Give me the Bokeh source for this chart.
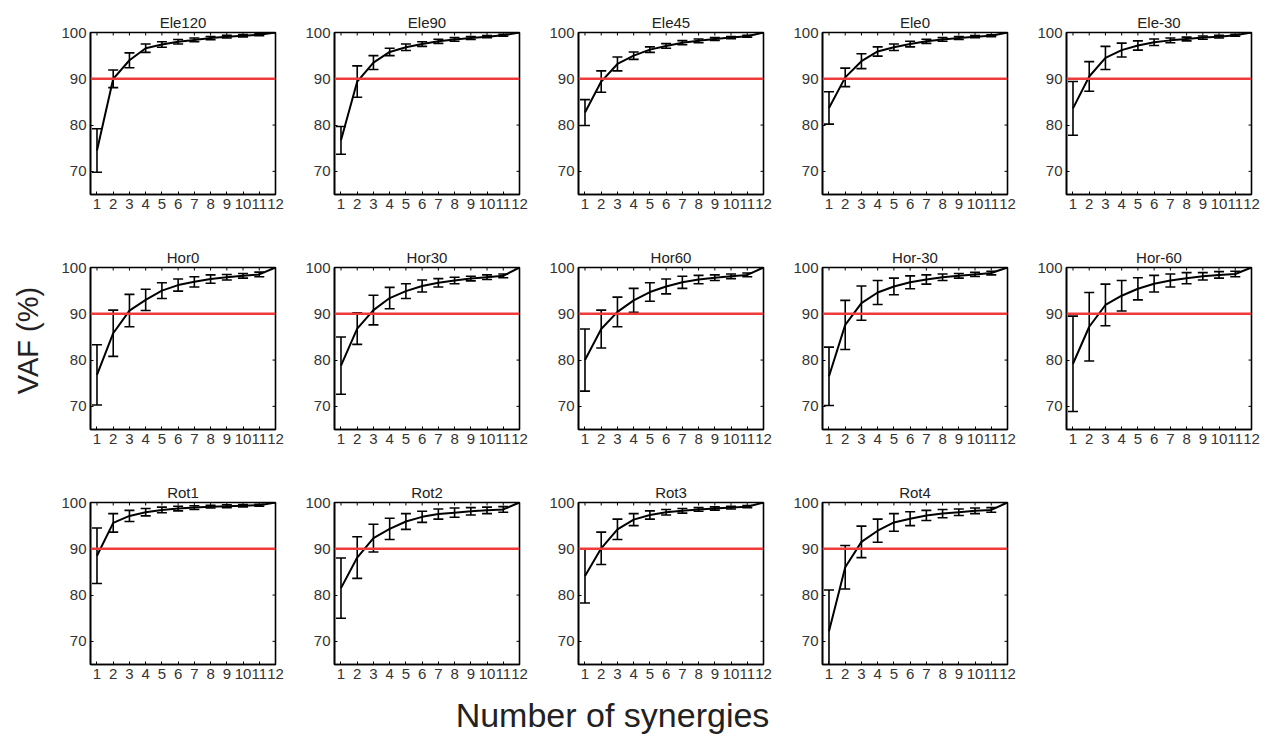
import math
from bokeh.plotting import figure
from bokeh.models import Range1d, FixedTicker, Span, ColumnDataSource, Spacer
from bokeh.core.properties import value
from bokeh.layouts import column, row
from bokeh.embed import file_html
from bokeh.resources import INLINE

synergies = [1, 2, 3, 4, 5, 6, 7, 8, 9, 10, 11, 12]
panel_names = ["Ele120", "Ele90", "Ele45", "Ele0", "Ele-30",
               "Hor0", "Hor30", "Hor60", "Hor-30", "Hor-60",
               "Rot1", "Rot2", "Rot3", "Rot4"]

ele120_mean = [74.5, 90.0, 94.0, 96.6, 97.4, 98.0, 98.4, 98.8, 99.1, 99.3, 99.5, 100]
ele120_sd = [4.7, 1.9, 1.6, 0.9, 0.6, 0.5, 0.4, 0.35, 0.3, 0.25, 0.2, 0]
ele90_mean = [76.7, 89.4, 93.5, 95.8, 96.8, 97.5, 98.1, 98.5, 98.8, 99.1, 99.4, 100]
ele90_sd = [3.0, 3.4, 1.5, 0.8, 0.7, 0.5, 0.45, 0.4, 0.3, 0.25, 0.2, 0]
ele45_mean = [82.7, 89.4, 93.2, 95.0, 96.3, 97.1, 97.8, 98.2, 98.6, 98.9, 99.2, 100]
ele45_sd = [2.8, 2.3, 1.5, 0.8, 0.6, 0.5, 0.45, 0.4, 0.3, 0.25, 0.2, 0]
ele0_mean = [83.7, 90.3, 93.8, 95.9, 96.8, 97.5, 98.1, 98.5, 98.8, 99.1, 99.3, 100]
ele0_sd = [3.5, 2.0, 1.6, 1.0, 0.7, 0.6, 0.45, 0.4, 0.3, 0.25, 0.2, 0]
ele_m30_mean = [83.6, 90.5, 94.5, 96.2, 97.2, 97.9, 98.3, 98.6, 98.9, 99.1, 99.4, 100]
ele_m30_sd = [5.8, 3.2, 2.5, 1.5, 1.0, 0.7, 0.5, 0.4, 0.35, 0.3, 0.2, 0]
hor0_mean = [76.8, 85.8, 90.7, 93.0, 95.0, 96.2, 96.9, 97.5, 97.9, 98.2, 98.5, 100]
hor0_sd = [6.5, 5.0, 3.5, 2.3, 1.7, 1.3, 1.1, 0.9, 0.6, 0.5, 0.5, 0]
hor30_mean = [78.8, 86.8, 90.8, 93.4, 94.9, 96.0, 96.7, 97.2, 97.6, 97.9, 98.2, 100]
hor30_sd = [6.2, 3.4, 3.2, 2.3, 1.6, 1.3, 0.9, 0.7, 0.5, 0.5, 0.4, 0]
hor60_mean = [80.0, 86.7, 90.4, 92.9, 94.7, 95.9, 96.8, 97.4, 97.8, 98.1, 98.4, 100]
hor60_sd = [6.7, 4.1, 3.2, 2.6, 2.0, 1.6, 1.3, 0.9, 0.6, 0.5, 0.4, 0]
hor_m30_mean = [76.5, 87.6, 92.3, 94.6, 95.9, 96.8, 97.4, 97.9, 98.2, 98.5, 98.8, 100]
hor_m30_sd = [6.3, 5.3, 3.7, 2.6, 1.8, 1.4, 1.0, 0.7, 0.5, 0.45, 0.4, 0]
hor_m60_mean = [79.2, 87.2, 91.9, 93.9, 95.4, 96.5, 97.2, 97.7, 98.1, 98.4, 98.6, 100]
hor_m60_sd = [10.3, 7.4, 4.5, 3.3, 2.4, 1.8, 1.4, 1.2, 0.8, 0.7, 0.6, 0]
rot1_mean = [88.5, 95.6, 97.1, 97.9, 98.4, 98.7, 98.9, 99.1, 99.2, 99.3, 99.4, 100]
rot1_sd = [6.0, 2.0, 1.2, 0.8, 0.6, 0.5, 0.4, 0.3, 0.3, 0.25, 0.2, 0]
rot2_mean = [81.5, 88.1, 92.3, 94.3, 95.9, 96.9, 97.5, 97.8, 98.1, 98.3, 98.5, 100]
rot2_sd = [6.5, 4.5, 3.0, 2.3, 1.7, 1.2, 1.1, 1.0, 0.8, 0.7, 0.6, 0]
rot3_mean = [84.1, 90.1, 94.2, 96.3, 97.3, 97.9, 98.2, 98.5, 98.7, 98.9, 99.1, 100]
rot3_sd = [5.8, 3.5, 2.2, 1.3, 0.9, 0.6, 0.5, 0.4, 0.35, 0.3, 0.25, 0]
rot4_mean = [72.2, 86.0, 91.5, 93.9, 95.7, 96.5, 97.2, 97.6, 97.9, 98.2, 98.4, 100]
rot4_sd = [8.9, 4.7, 3.4, 2.5, 1.9, 1.5, 1.1, 0.9, 0.7, 0.6, 0.5, 0]

threshold = 90
y_ticks = [70, 80, 90, 100]
x_lim = (0.6, 12)
y_lim = (65, 100)

panel_means = [ele120_mean, ele90_mean, ele45_mean, ele0_mean, ele_m30_mean,
               hor0_mean, hor30_mean, hor60_mean, hor_m30_mean, hor_m60_mean,
               rot1_mean, rot2_mean, rot3_mean, rot4_mean]
panel_sds = [ele120_sd, ele90_sd, ele45_sd, ele0_sd, ele_m30_sd,
             hor0_sd, hor30_sd, hor60_sd, hor_m30_sd, hor_m60_sd,
             rot1_sd, rot2_sd, rot3_sd, rot4_sd]

FONT = "Liberation Sans"
PW, PH = 244, 235
PH_LAST = 225


def make_panel(name, mean, sd, height=PH):
    p = figure(width=PW, height=height, toolbar_location=None, output_backend="svg",
               x_range=Range1d(*x_lim), y_range=Range1d(*y_lim),
               min_border_left=45, min_border_right=14, min_border_top=32,
               min_border_bottom=height - 32 - 162)
    upper = [m + s for m, s in zip(mean, sd)]
    lower = [m - s for m, s in zip(mean, sd)]
    src = ColumnDataSource(dict(x=synergies, m=mean, up=upper, lo=lower))
    p.add_layout(Span(location=threshold, dimension="width", line_color="#ef3b3b", line_width=2.4))
    p.segment(x0="x", y0="lo", x1="x", y1="up", source=src, line_color="black", line_width=1.6)
    p.scatter(x="x", y="up", source=src, marker="dash", size=10, line_color="black", line_width=1.6)
    p.scatter(x="x", y="lo", source=src, marker="dash", size=10, line_color="black", line_width=1.6)
    p.line(x="x", y="m", source=src, line_color="black", line_width=2)

    # inward mirror ticks on top and right edges (Matlab "box on" style)
    p.scatter(x=synergies, y=[y_lim[1]] * len(synergies), marker="dash", angle=math.pi / 2,
              size=6, line_color="black", line_width=1)
    p.scatter(x=[x_lim[1]] * len(y_ticks), y=y_ticks, marker="dash",
              size=6, line_color="black", line_width=1)

    p.title.text = name
    p.title.align = "center"
    p.title.text_font = FONT
    p.title.text_font_size = "15px"
    p.title.text_font_style = "normal"
    p.title.text_color = "#222222"
    p.title.standoff = 3

    p.xgrid.visible = False
    p.ygrid.visible = False
    p.outline_line_color = "black"
    p.outline_line_width = 1.6
    p.outline_line_alpha = 1

    for ax in p.xaxis:
        ax.ticker = FixedTicker(ticks=synergies)
    for ax in p.yaxis:
        ax.ticker = FixedTicker(ticks=y_ticks)
    for ax in list(p.xaxis) + list(p.yaxis):
        ax.major_tick_in = 3
        ax.major_tick_out = 0
        ax.minor_tick_line_color = None
        ax.axis_line_color = "black"
        ax.axis_line_width = 1.6
        ax.major_tick_line_color = "black"
        ax.major_label_text_font = FONT
        ax.major_label_text_font_size = "15px"
        ax.major_label_text_color = "#333333"
        ax.major_label_standoff = 4
    return p


panels = []
for i, (n, m, s) in enumerate(zip(panel_names, panel_means, panel_sds)):
    panels.append(make_panel(n, m, s, PH if i < 10 else PH_LAST))

rows = [
    row(*panels[0:5]),
    row(*panels[5:10]),
    row(*panels[10:14], Spacer(width=PW, height=PH_LAST)),
]
grid = column(*rows)
grid_h = 2 * PH + PH_LAST

vaf = figure(width=45, height=680, toolbar_location=None, output_backend="svg",
             x_axis_type=None, y_axis_type=None, min_border=0,
             x_range=Range1d(0, 1), y_range=Range1d(0, 1))
vaf.outline_line_color = None
vaf.grid.visible = False
vaf.text(x=[0.62], y=[0.5], text=["VAF (%)"], angle=math.pi / 2, text_align="center",
         text_baseline="middle", text_font=value(FONT), text_font_size="29px", text_color="#222222")
left_col = column(vaf, Spacer(width=45, height=grid_h - 680))

xlab = figure(width=1224, height=744 - grid_h, toolbar_location=None, output_backend="svg",
              x_axis_type=None, y_axis_type=None, min_border=0,
              x_range=Range1d(0, 1), y_range=Range1d(0, 1))
xlab.outline_line_color = None
xlab.grid.visible = False
xlab.text(x=[0.5], y=[0.6], text=["Number of synergies"], text_align="center",
          text_baseline="middle", text_font=value(FONT), text_font_size="34px",
          text_color="#222222")

p = column(row(left_col, grid), xlab)

open("out.html", "w").write(file_html(p, INLINE))
